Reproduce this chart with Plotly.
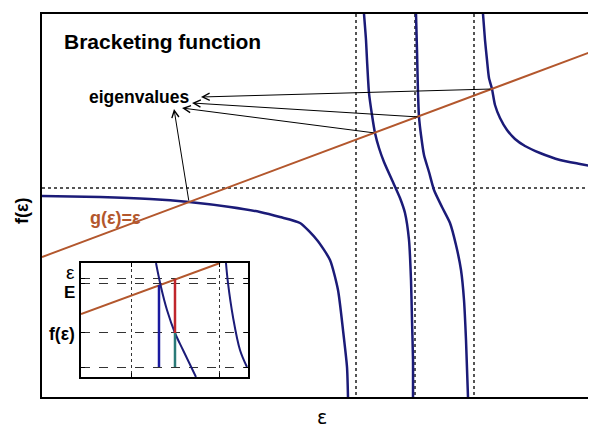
import plotly.graph_objects as go

# curva f(eps), por ramas
eps_b1 = [0, 0.58, 1.08, 1.47, 1.88, 2.18, 2.38, 2.58, 2.75, 2.88, 2.96, 3.01, 3.05, 3.06]
f_b1 = [2.01, 2.00, 1.98, 1.95, 1.90, 1.85, 1.80, 1.74, 1.57, 1.37, 1.07, 0.67, 0.30, 0.00]
eps_b2 = [3.22, 3.24, 3.25, 3.27, 3.30, 3.33, 3.37, 3.42, 3.50, 3.58, 3.63, 3.67, 3.69, 3.70, 3.71, 3.71]
f_b2 = [3.83, 3.57, 3.37, 3.04, 2.82, 2.64, 2.49, 2.35, 2.17, 1.99, 1.84, 1.57, 1.17, 0.77, 0.37, 0.00]
eps_b3 = [3.74, 3.75, 3.76, 3.77, 3.79, 3.82, 3.87, 3.92, 4.00, 4.08, 4.14, 4.19, 4.22, 4.24, 4.26]
f_b3 = [3.83, 3.47, 3.04, 2.80, 2.62, 2.42, 2.25, 2.07, 1.90, 1.74, 1.52, 1.27, 0.97, 0.57, 0.00]
eps_b4 = [4.41, 4.43, 4.45, 4.47, 4.50, 4.53, 4.58, 4.65, 4.73, 4.83, 4.98, 5.18, 5.38, 5.54]
f_b4 = [3.83, 3.57, 3.37, 3.19, 3.08, 2.92, 2.79, 2.67, 2.58, 2.51, 2.44, 2.37, 2.33, 2.30]

# recta g(eps)=eps
eps_g = [0, 5.54]
g_vals = [1.40, 3.47]

# polos y asintota
poles = [3.14, 3.73, 4.32]
asym = [2.09]

# autovalores (cruces) y donde apuntan las flechas
eig_eps = [4.50, 3.77, 3.33, 1.47]
eig_f = [3.08, 2.80, 2.64, 1.95]
tip_eps = [1.59, 1.50, 1.40, 1.32]
tip_f = [3.00, 2.94, 2.89, 2.88]

# recuadro chico
in_g_x = [0, 1.39]
in_g_y = [0.63, 1.14]
in_c1_x = [0.75, 0.80, 0.86, 0.94, 1.02, 1.15]
in_c1_y = [1.14, 0.90, 0.67, 0.44, 0.27, 0.00]
in_c2_x = [1.45, 1.47, 1.52, 1.59, 1.66]
in_c2_y = [1.14, 0.94, 0.60, 0.27, 0.10]
in_vgrid = [0.51, 1.39]
in_hgrid = [0.10, 0.44, 0.93, 0.98]
bar_blue_x = [0.78, 0.78]
bar_blue_y = [0.10, 0.92]
bar_red_x = [0.94, 0.94]
bar_red_y = [0.98, 0.44]
bar_teal_x = [0.94, 0.94]
bar_teal_y = [0.44, 0.10]
in_labels = ['ε', '<b>E</b>', '<b>f(ε)</b>']
in_label_y = [0.326, 0.274, 0.164]
in_label_size = [19, 17, 17.5]

BLUE = '#1b1b78'
ORANGE = '#b3572d'

fig = go.Figure()
for ex, fy in [(eps_b1, f_b1), (eps_b2, f_b2), (eps_b3, f_b3), (eps_b4, f_b4)]:
    fig.add_scatter(x=ex, y=fy, mode='lines', line=dict(color=BLUE, width=2.5, shape='spline', smoothing=0.6))
fig.add_scatter(x=eps_g, y=g_vals, mode='lines', line=dict(color=ORANGE, width=2))

# recuadro
fig.add_scatter(x=in_g_x, y=in_g_y, mode='lines', line=dict(color=ORANGE, width=2), xaxis='x2', yaxis='y2')
fig.add_scatter(x=in_c1_x, y=in_c1_y, mode='lines', line=dict(color=BLUE, width=2, shape='spline'), xaxis='x2', yaxis='y2')
fig.add_scatter(x=in_c2_x, y=in_c2_y, mode='lines', line=dict(color=BLUE, width=2, shape='spline'), xaxis='x2', yaxis='y2')
fig.add_scatter(x=bar_blue_x, y=bar_blue_y, mode='lines', line=dict(color='#1a1aa0', width=2.5), xaxis='x2', yaxis='y2')
fig.add_scatter(x=bar_red_x, y=bar_red_y, mode='lines', line=dict(color='#c0262c', width=2.5), xaxis='x2', yaxis='y2')
fig.add_scatter(x=bar_teal_x, y=bar_teal_y, mode='lines', line=dict(color='#2a7a78', width=2.5), xaxis='x2', yaxis='y2')

# flechas
for x0, y0, x1, y1 in zip(eig_eps, eig_f, tip_eps, tip_f):
    fig.add_annotation(x=x1, y=y1, ax=x0, ay=y0, xref='x', yref='y', axref='x', ayref='y',
                       text='', showarrow=True, arrowhead=5, arrowsize=1.4, arrowwidth=1, arrowcolor='black')

fig.add_annotation(x=0.036, y=0.927, xref='paper', yref='paper', xanchor='left', yanchor='middle',
                   text='<b>Bracketing function</b>', showarrow=False,
                   font=dict(family='Liberation Sans', size=21, color='black'))
fig.add_annotation(x=0.45, y=3.00, xanchor='left', yanchor='middle', text='<b>eigenvalues</b>',
                   showarrow=False, font=dict(family='Liberation Sans', size=17.5, color='black'))
fig.add_annotation(x=0.46, y=1.79, xanchor='left', yanchor='middle', text='<b>g(ε)=ε</b>',
                   showarrow=False, font=dict(family='Liberation Sans', size=18, color=ORANGE))

# titulos de ejes
fig.add_annotation(x=0.505, y=-0.052, xref='paper', yref='paper', xanchor='center', yanchor='middle',
                   text='ε', showarrow=False, font=dict(family='DejaVu Sans', size=19, color='black'))
fig.add_annotation(x=-0.036, y=0.486, xref='paper', yref='paper', xanchor='center', yanchor='middle',
                   text='<b>f(ε)</b>', textangle=-90, showarrow=False,
                   font=dict(family='Liberation Sans', size=18, color='black'))

# etiquetas del recuadro
for lab, yv, sz in zip(in_labels, in_label_y, in_label_size):
    fig.add_annotation(x=0.063, y=yv, xref='paper', yref='paper', xanchor='right', yanchor='middle',
                       text=lab, showarrow=False, font=dict(family='Liberation Sans', size=sz, color='black'))

# la pagina deja 8px de margen arriba e izquierda: la figura es 8px mas chica
fig.update_layout(
    width=588, height=419,
    margin=dict(l=34, r=0, t=6, b=30, autoexpand=False),
    paper_bgcolor='white', plot_bgcolor='white',
    showlegend=False,
    font=dict(family='Liberation Sans', color='black'),
    xaxis=dict(range=[0, 5.54], showline=True, linecolor='black', linewidth=1.5, mirror=True,
               tickvals=poles, showticklabels=False, ticks='', automargin=False,
               showgrid=True, gridcolor='#555555', gridwidth=1.5, griddash='dot', zeroline=False),
    yaxis=dict(range=[0, 3.83], showline=True, linecolor='black', linewidth=1.5, mirror=False,
               tickvals=asym, showticklabels=False, ticks='', automargin=False,
               showgrid=True, gridcolor='#555555', gridwidth=1.5, griddash='dot', zeroline=False),
    xaxis2=dict(domain=[0.0704, 0.3718], anchor='y2', range=[0, 1.67], showline=True, linecolor='black',
                linewidth=1.5, mirror='allticks', tickvals=in_vgrid, showticklabels=False,
                ticks='inside', ticklen=4, tickcolor='black', automargin=False,
                showgrid=True, gridcolor='#333333', gridwidth=1, griddash='dot', zeroline=False),
    yaxis2=dict(domain=[0.0522, 0.3499], anchor='x2', range=[0, 1.14], showline=True, linecolor='black',
                linewidth=1.5, mirror='allticks', tickvals=in_hgrid, showticklabels=False,
                ticks='inside', ticklen=4, tickcolor='black', automargin=False,
                showgrid=True, gridcolor='#333333', gridwidth=1, griddash='dash', zeroline=False),
)

fig.write_html("out.html")
